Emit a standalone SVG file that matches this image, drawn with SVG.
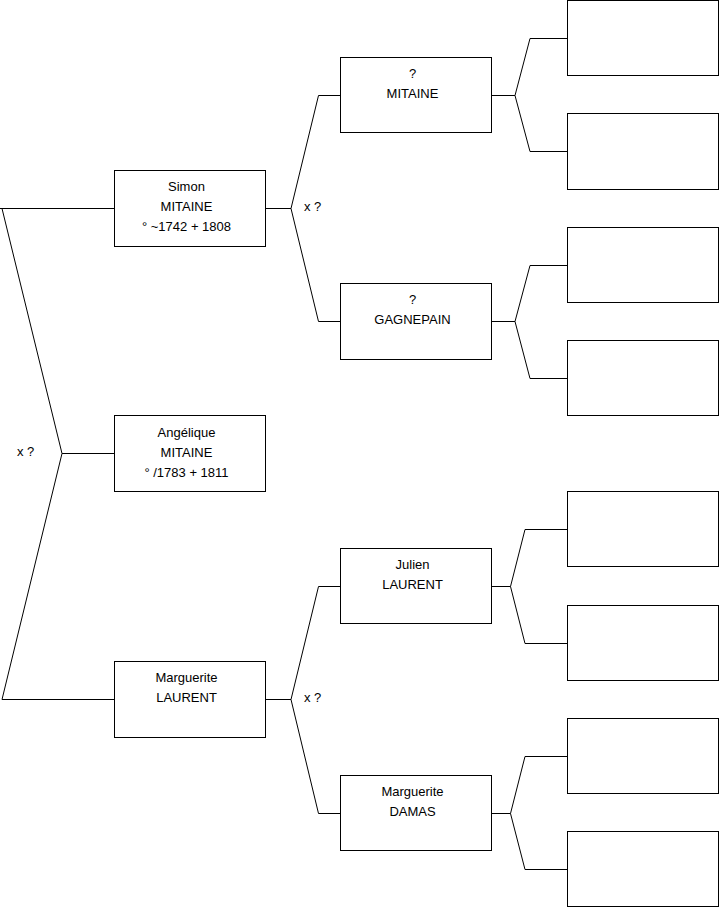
<svg xmlns="http://www.w3.org/2000/svg" width="719" height="908" viewBox="0 0 719 908">
<style>
.box{fill:#fff;stroke:#000;stroke-width:1}
.ln{fill:none;stroke:#000;stroke-width:1}
text{font-family:"Liberation Sans",Arial,sans-serif;font-size:13px;fill:#000}
.c{text-anchor:middle}
</style>
<rect width="719" height="908" fill="#fff"/>
<g id="connectors">
<path class="ln" d="M0,208.5 H2 L62,453.5 L2,699.5 H114.5 M0,208.5 H114.5 M62,453.5 H114.5"/>
<path class="ln" d="M265.5,208.5 H291 L318.5,95.5 H340.5 M291,208.5 L318.5,321.5 H340.5"/>
<path class="ln" d="M265.5,699.5 H291 L318.5,586.5 H340.5 M291,699.5 L318.5,813.5 H340.5"/>
<path class="ln" d="M491.5,95.5 H515 L530,38.5 H567.5 M515,95.5 L530,151.5 H567.5"/>
<path class="ln" d="M491.5,321.5 H515 L530,265.5 H567.5 M515,321.5 L530,378.5 H567.5"/>
<path class="ln" d="M491.5,586.5 H510.5 L525,529.5 H567.5 M510.5,586.5 L525,643.5 H567.5"/>
<path class="ln" d="M491.5,813.5 H510.5 L525,756.5 H567.5 M510.5,813.5 L525,869.5 H567.5"/>
<text x="17" y="456">x ?</text>
<text x="304" y="211">x ?</text>
<text x="304" y="702">x ?</text>
</g>
<g id="simon"><rect class="box" x="114.5" y="170.5" width="151" height="76"/>
<text class="c" x="186.5" y="191">Simon</text><text class="c" x="186.5" y="211">MITAINE</text><text class="c" x="186.5" y="231">° ~1742 + 1808</text></g>
<g id="angelique"><rect class="box" x="114.5" y="415.5" width="151" height="76"/>
<text class="c" x="186.5" y="437">Angélique</text><text class="c" x="186.5" y="457">MITAINE</text><text class="c" x="186.5" y="477">° /1783 + 1811</text></g>
<g id="marguerite-laurent"><rect class="box" x="114.5" y="661.5" width="151" height="76"/>
<text class="c" x="186.5" y="682">Marguerite</text><text class="c" x="186.5" y="702">LAURENT</text></g>
<g id="p-mitaine"><rect class="box" x="340.5" y="57.5" width="151" height="75"/>
<text class="c" x="412.5" y="77.5">?</text><text class="c" x="412.5" y="97.5">MITAINE</text></g>
<g id="p-gagnepain"><rect class="box" x="340.5" y="283.5" width="151" height="76"/>
<text class="c" x="412.5" y="304">?</text><text class="c" x="412.5" y="324">GAGNEPAIN</text></g>
<g id="julien-laurent"><rect class="box" x="340.5" y="548.5" width="151" height="75"/>
<text class="c" x="412.5" y="568.5">Julien</text><text class="c" x="412.5" y="589">LAURENT</text></g>
<g id="marguerite-damas"><rect class="box" x="340.5" y="775.5" width="151" height="75"/>
<text class="c" x="412.5" y="796">Marguerite</text><text class="c" x="412.5" y="816">DAMAS</text></g>
<g id="g3-1"><rect class="box" x="567.5" y="0.5" width="151" height="75"/></g>
<g id="g3-2"><rect class="box" x="567.5" y="113.5" width="151" height="76"/></g>
<g id="g3-3"><rect class="box" x="567.5" y="227.5" width="151" height="75"/></g>
<g id="g3-4"><rect class="box" x="567.5" y="340.5" width="151" height="75"/></g>
<g id="g3-5"><rect class="box" x="567.5" y="491.5" width="151" height="75"/></g>
<g id="g3-6"><rect class="box" x="567.5" y="605.5" width="151" height="75"/></g>
<g id="g3-7"><rect class="box" x="567.5" y="718.5" width="151" height="75"/></g>
<g id="g3-8"><rect class="box" x="567.5" y="831.5" width="151" height="75"/></g>
</svg>
